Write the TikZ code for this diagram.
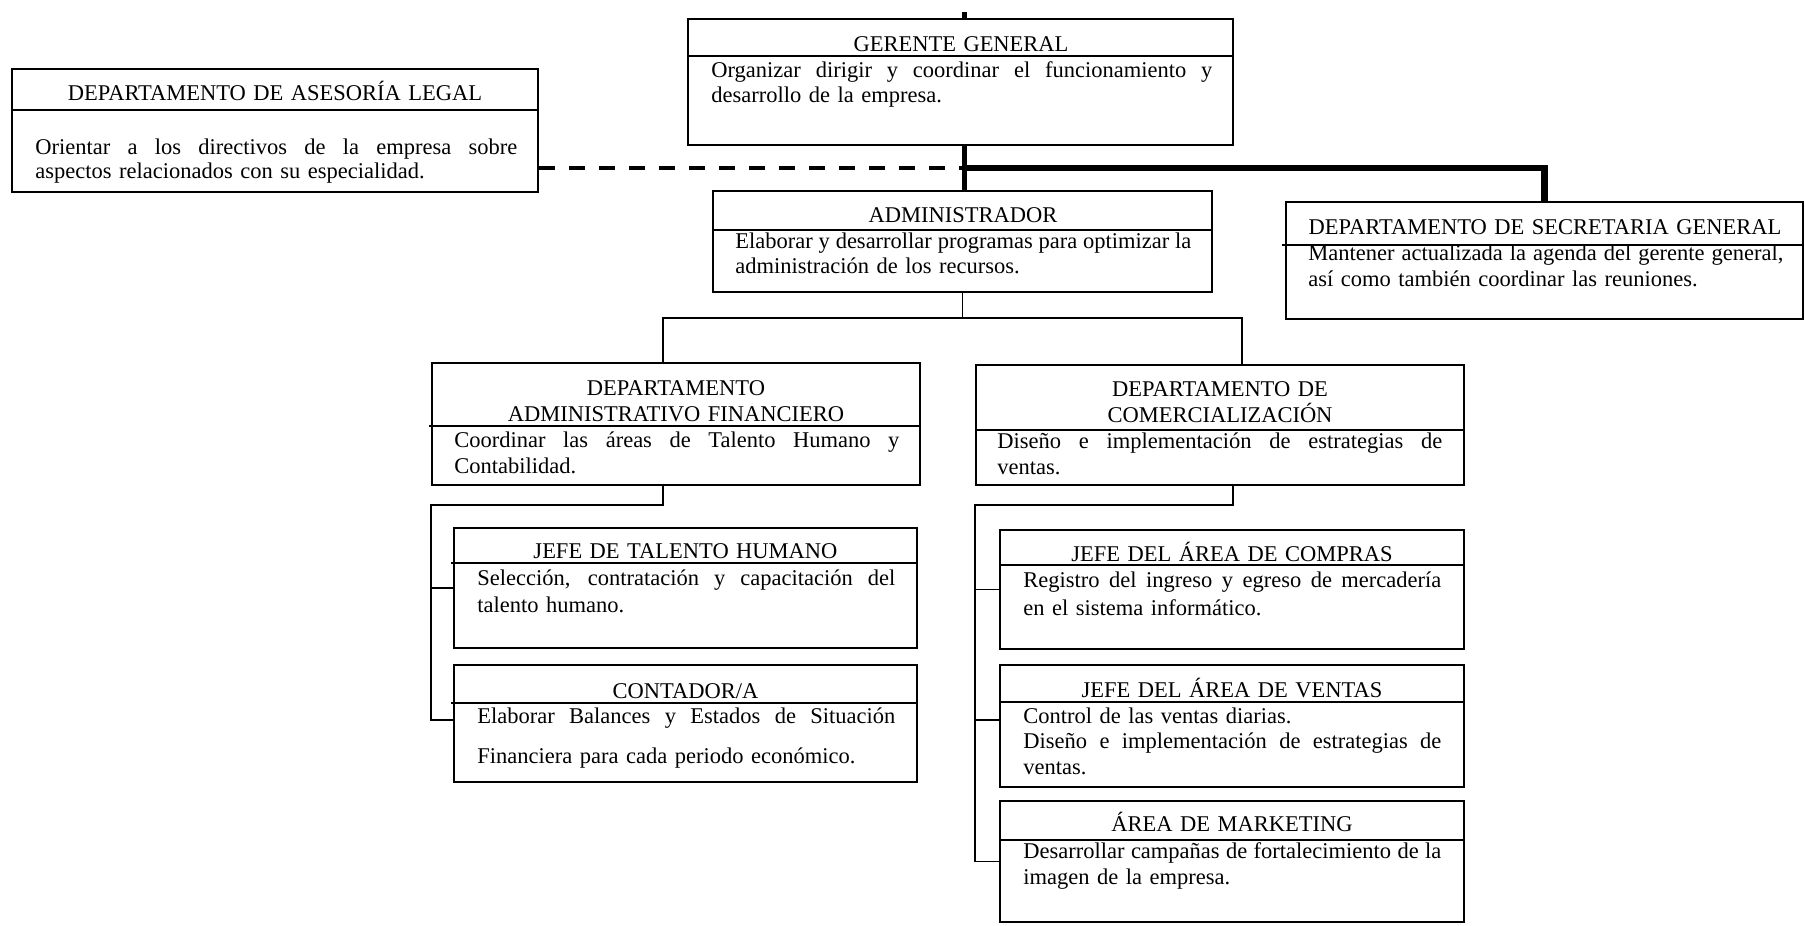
\documentclass[tikz,border=0pt]{standalone}
\usepackage{fontspec}
\setmainfont{Liberation Serif}
\usetikzlibrary{fit}
\newcommand\jl[2]{\makebox[#1][s]{\spaceskip=0.25em plus 1fil\relax #2}}
\begin{document}
\begin{tikzpicture}[x=0.5pt,y=-0.5pt,
  box/.style={draw, line width=0.9pt, inner sep=0pt},
  hd/.style={anchor=base, align=center, inner sep=0pt, text width=250pt, font={\fontsize{11.25pt}{#1}\selectfont}},
  hd/.default=13pt,
  bd/.style={anchor=base west, inner sep=0pt, font={\fontsize{11.25pt}{#1}\selectfont}},
  bd/.default=12.5pt,
  ln/.style={line width=0.9pt},
  thk/.style={line width=2.5pt},
  thkh/.style={line width=3.2pt},
  dsh/.style={line width=2pt, dash pattern=on 8pt off 7pt}]
\useasboundingbox (0,0) rectangle (1805,926);

% ---------- boxes ----------
\node[box, fit={(688,19) (1233,145)}] (gg) {};
\draw[ln] (688,56) -- (1233,56);
\node[hd] (gg-h) at (961,51) {GERENTE GENERAL};
\node[bd=12.5pt, text width=250.5pt] (gg-b) at (711,77)
  {\jl{250.5pt}{Organizar dirigir y coordinar el funcionamiento y}\\desarrollo de la empresa.};

\node[box, fit={(12,69) (538,192)}] (ase) {};
\draw[ln] (12,110) -- (538,110);
\node[hd] (ase-h) at (275,100) {DEPARTAMENTO DE ASESORÍA LEGAL};
\node[bd=12pt, text width=241pt] (ase-b) at (35,154)
  {\jl{241pt}{Orientar a los directivos de la empresa sobre}\\aspectos relacionados con su especialidad.};

\node[box, fit={(713,191) (1212,292)}] (adm) {};
\draw[ln] (713,230) -- (1212,230);
\node[hd] (adm-h) at (963,222) {ADMINISTRADOR};
\node[bd=12.5pt, text width=229pt] (adm-b) at (735,248)
  {\jl{228pt}{Elaborar y desarrollar programas para optimizar la}\\administración de los recursos.};

\node[box, fit={(1286,202) (1803,319)}] (sec) {};
\draw[ln] (1282,245) -- (1803,245);
\node[hd] (sec-h) at (1545,234) {DEPARTAMENTO DE SECRETARIA GENERAL};
\node[bd=13pt, text width=237.5pt] (sec-b) at (1308,260)
  {\jl{237.5pt}{Mantener actualizada la agenda del gerente general,}\\así como también coordinar las reuniones.};

\node[box, fit={(432,363) (920,485)}] (daf) {};
\draw[ln] (429,426) -- (920,426);
\node[hd] (daf-h) at (676,395) {DEPARTAMENTO\\ADMINISTRATIVO FINANCIERO};
\node[bd=13pt, text width=222.5pt] (daf-b) at (454,447)
  {\jl{222.5pt}{Coordinar las áreas de Talento Humano y}\\Contabilidad.};

\node[box, fit={(454,528) (917,648)}] (th) {};
\draw[ln] (451,563) -- (917,563);
\node[hd] (th-h) at (685.5,558) {JEFE DE TALENTO HUMANO};
\node[bd=13.5pt, text width=209pt] (th-b) at (477,585)
  {\jl{209pt}{Selección, contratación y capacitación del}\\talento humano.};

\node[box, fit={(454,665) (917,782)}] (ct) {};
\draw[ln] (451,703) -- (917,703);
\node[hd] (ct-h) at (685.5,698) {CONTADOR/A};
\node[bd=20pt, text width=209pt] (ct-b) at (477,723)
  {\jl{209pt}{Elaborar Balances y Estados de Situación}\\Financiera para cada periodo económico.};

\node[box, fit={(976,365) (1464,485)}] (com) {};
\draw[ln] (976,430) -- (1464,430);
\node[hd] (com-h) at (1220,396) {DEPARTAMENTO DE\\COMERCIALIZACIÓN};
\node[bd=13pt, text width=222.5pt] (com-b) at (997,448)
  {\jl{222.5pt}{Diseño e implementación de estrategias de}\\ventas.};

\node[box, fit={(1000,530) (1464,649)}] (cp) {};
\draw[ln] (1000,565) -- (1464,565);
\node[hd] (cp-h) at (1232,561) {JEFE DEL ÁREA DE COMPRAS};
\node[bd=14pt, text width=209pt] (cp-b) at (1023,587)
  {\jl{209pt}{Registro del ingreso y egreso de mercadería}\\en el sistema informático.};

\node[box, fit={(1000,665) (1464,787)}] (vt) {};
\draw[ln] (1000,702) -- (1464,702);
\node[hd] (vt-h) at (1232,697) {JEFE DEL ÁREA DE VENTAS};
\node[bd=12.75pt, text width=209pt] (vt-b) at (1023,723)
  {Control de las ventas diarias.\\\jl{209pt}{Diseño e implementación de estrategias de}\\ventas.};

\node[box, fit={(1000,801) (1464,922)}] (mk) {};
\draw[ln] (1000,840) -- (1464,840);
\node[hd] (mk-h) at (1232,831) {ÁREA DE MARKETING};
\node[bd=13pt, text width=209pt] (mk-b) at (1023,858)
  {\jl{209pt}{Desarrollar campañas de fortalecimiento de la}\\imagen de la empresa.};

% ---------- connectors ----------
\coordinate (ttop) at (964,12);
\coordinate (j1) at (964,168);
\draw[thk] (ttop) -- (ttop |- gg.north);
\draw[thk] (gg.south -| j1) -- (adm.north -| j1);
\draw[thkh] (j1) -| (sec.north);
\draw[dsh] (ase.east |- j1) -- (j1);

\coordinate (c1) at (663,318);
\coordinate (c2) at (1242,318);
\draw[ln] (adm.south) -- (adm.south |- c1);
\draw[ln] (daf.north -| c1) -- (c1) -- (c2) -- (com.north -| c2);

\coordinate (c3) at (663,505);
\coordinate (ctt) at ([yshift=1.75pt]ct.west);
\draw[ln] (daf.south -| c3) -- (c3) -- (c3 -| daf.west) |- (ctt);
\draw[ln] (daf.west |- th.west) -- (th.west);

\coordinate (c4) at (1233,505);
\coordinate (vtt) at ([yshift=3pt]vt.west);
\draw[ln] (com.south -| c4) -- (c4) -- (c4 -| com.west) |- (mk.west);
\draw[ln] (com.west |- cp.west) -- (cp.west);
\draw[ln] (vtt -| com.west) -- (vtt);
\end{tikzpicture}
\end{document}
